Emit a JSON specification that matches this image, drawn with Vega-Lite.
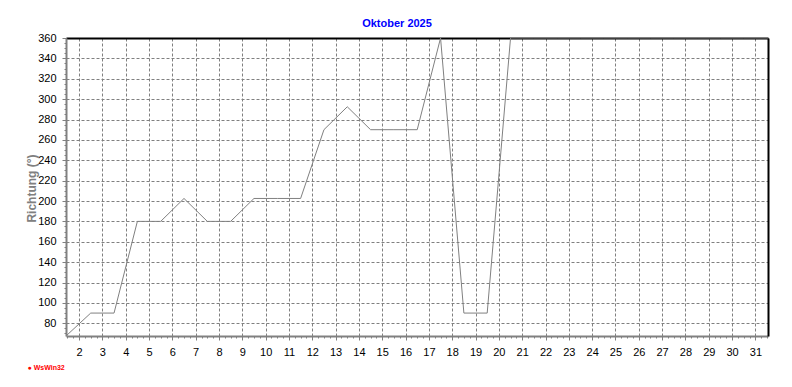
{
  "$schema": "https://vega.github.io/schema/vega-lite/v6.json",
  "width": 702,
  "height": 298,
  "autosize": {"type": "none"},
  "padding": {"left": 66, "top": 38, "right": 24, "bottom": 51},
  "background": "white",
  "title": {"text": "Oktober 2025", "color": "#0000FF", "font": "Liberation Sans", "fontSize": 11, "fontWeight": "bold", "anchor": "middle", "dx": -20, "offset": 3},
  "config": {"view": {"stroke": null}},
  "data": {"values": [
    {"day": 1.44, "dir": 67.5},
    {"day": 2.5, "dir": 90},
    {"day": 3.5, "dir": 90},
    {"day": 4.5, "dir": 180},
    {"day": 5.5, "dir": 180},
    {"day": 6.5, "dir": 202.5},
    {"day": 7.5, "dir": 180},
    {"day": 8.5, "dir": 180},
    {"day": 9.5, "dir": 202.5},
    {"day": 10.5, "dir": 202.5},
    {"day": 11.5, "dir": 202.5},
    {"day": 12.5, "dir": 270},
    {"day": 13.5, "dir": 292.5},
    {"day": 14.5, "dir": 270},
    {"day": 15.5, "dir": 270},
    {"day": 16.5, "dir": 270},
    {"day": 17.5, "dir": 360},
    {"day": 18.5, "dir": 90},
    {"day": 19.5, "dir": 90},
    {"day": 20.5, "dir": 360},
    {"day": 21.5, "dir": 360},
    {"day": 22.5, "dir": 360},
    {"day": 23.5, "dir": 360},
    {"day": 24.5, "dir": 360},
    {"day": 25.5, "dir": 360},
    {"day": 26.5, "dir": 360},
    {"day": 27.5, "dir": 360},
    {"day": 28.5, "dir": 360},
    {"day": 29.5, "dir": 360},
    {"day": 30.5, "dir": 360},
    {"day": 31.54, "dir": 360}
  ]},
  "resolve": {"axis": {"x": "independent", "y": "independent"}},
  "layer": [
    {
      "mark": {"type": "line", "color": "#808080", "strokeWidth": 1, "clip": true},
      "encoding": {
        "x": {
          "field": "day", "type": "quantitative",
          "scale": {"domain": [1.44, 31.54], "nice": false, "zero": false},
          "axis": {
            "orient": "bottom",
            "values": [1.5,1.75,2,2.25,2.5,2.75,3,3.25,3.5,3.75,4,4.25,4.5,4.75,5,5.25,5.5,5.75,6,6.25,6.5,6.75,7,7.25,7.5,7.75,8,8.25,8.5,8.75,9,9.25,9.5,9.75,10,10.25,10.5,10.75,11,11.25,11.5,11.75,12,12.25,12.5,12.75,13,13.25,13.5,13.75,14,14.25,14.5,14.75,15,15.25,15.5,15.75,16,16.25,16.5,16.75,17,17.25,17.5,17.75,18,18.25,18.5,18.75,19,19.25,19.5,19.75,20,20.25,20.5,20.75,21,21.25,21.5,21.75,22,22.25,22.5,22.75,23,23.25,23.5,23.75,24,24.25,24.5,24.75,25,25.25,25.5,25.75,26,26.25,26.5,26.75,27,27.25,27.5,27.75,28,28.25,28.5,28.75,29,29.25,29.5,29.75,30,30.25,30.5,30.75,31,31.25,31.5],
            "labelExpr": "datum.value % 1 == 0 ? format(datum.value, 'd') : ''",
            "labelOverlap": false,
            "labelFlush": false,
            "labelColor": "black",
            "labelFont": "Liberation Sans",
            "labelFontSize": 11,
            "labelPadding": 6,
            "tickColor": "#808080",
            "tickSize": {"condition": {"test": "datum.value % 1 == 0", "value": 4}, "value": 2},
            "domainColor": "#808080",
            "domainWidth": 2,
            "grid": true,
            "gridColor": "#808080",
            "gridDash": [3, 2],
            "gridOpacity": {"condition": {"test": "datum.value % 1 == 0", "value": 1}, "value": 0},
            "title": "● WsWin32",
            "titleColor": "#FF0000",
            "titleFont": "Liberation Sans",
            "titleFontSize": 7,
            "titleFontWeight": "bold",
            "titleAlign": "left",
            "titleAnchor": "start",
            "titleBaseline": "middle",
            "titleX": -39,
            "titleY": 31
          }
        },
        "y": {
          "field": "dir", "type": "quantitative",
          "scale": {"domain": [67.5, 360], "nice": false, "zero": false},
          "axis": {
            "orient": "left",
            "values": [70,75,80,85,90,95,100,105,110,115,120,125,130,135,140,145,150,155,160,165,170,175,180,185,190,195,200,205,210,215,220,225,230,235,240,245,250,255,260,265,270,275,280,285,290,295,300,305,310,315,320,325,330,335,340,345,350,355,360],
            "labelExpr": "datum.value % 20 == 0 ? format(datum.value, 'd') : ''",
            "labelOverlap": false,
            "labelFlush": false,
            "labelColor": "black",
            "labelFont": "Liberation Sans",
            "labelFontSize": 11,
            "labelPadding": 6,
            "tickColor": "#808080",
            "tickSize": {"condition": {"test": "datum.value % 20 == 0", "value": 4}, "value": 2},
            "domainColor": "#808080",
            "domainWidth": 2,
            "grid": true,
            "gridColor": "#808080",
            "gridDash": [3, 2],
            "gridOpacity": {"condition": {"test": "datum.value % 20 == 0", "value": 1}, "value": 0},
            "title": "Richtung (°)",
            "titleColor": "#808080",
            "titleFont": "Liberation Sans",
            "titleFontSize": 12,
            "titleFontWeight": "bold",
            "titleAngle": -90,
            "titleAnchor": "middle",
            "titleBaseline": "middle",
            "titleX": -35,
            "titleY": 150
          }
        }
      }
    },
    {
      "mark": {"type": "line", "opacity": 0},
      "encoding": {
        "x": {
          "field": "day", "type": "quantitative",
          "axis": {"orient": "top", "domainColor": "black", "domainWidth": 2, "ticks": false, "labels": false, "grid": false, "title": null}
        },
        "y": {
          "field": "dir", "type": "quantitative",
          "axis": {"orient": "right", "domainColor": "black", "domainWidth": 2, "ticks": false, "labels": false, "grid": false, "title": null}
        }
      }
    }
  ]
}
